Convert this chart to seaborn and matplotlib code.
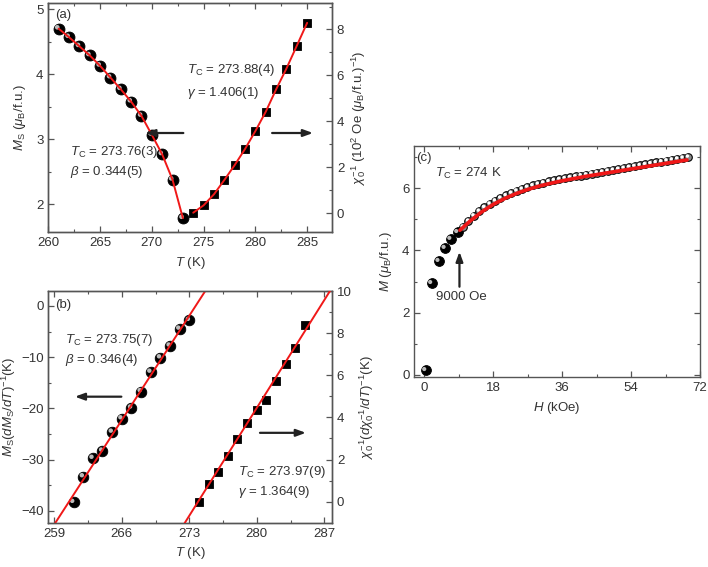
import matplotlib
matplotlib.use("Agg")
import matplotlib.pyplot as plt
import matplotlib.transforms as mtransforms
from matplotlib.ticker import MultipleLocator
import seaborn as sns

# ---------------- data ----------------
# (a) Ms(T) below Tc and inverse susceptibility above Tc
T_ms_a = [261, 262, 263, 264, 265, 266, 267, 268, 269, 270, 271, 272, 273]
Ms_a = [4.70, 4.57, 4.43, 4.29, 4.13, 3.95, 3.77, 3.58, 3.36, 3.07, 2.77, 2.38, 1.79]
T_chi_a = [274, 275, 276, 277, 278, 279, 280, 281, 282, 283, 284, 285]
chi_a = [0.03, 0.35, 0.83, 1.45, 2.10, 2.80, 3.58, 4.42, 5.39, 6.30, 7.29, 8.29]

# (b) Kouvel-Fisher plot
T_ms_b = [261, 262, 263, 264, 265, 266, 267, 268, 269, 270, 271, 272, 273]
kf_ms_b = [-38.3, -33.3, -29.7, -28.3, -24.6, -22.0, -19.9, -16.7, -12.9, -10.1, -7.8, -4.5, -2.8]
T_chi_b = [274, 275, 276, 277, 278, 279, 280, 281, 282, 283, 284, 285]
kf_chi_b = [0.0, 0.82, 1.41, 2.15, 2.99, 3.73, 4.33, 4.83, 5.71, 6.53, 7.30, 8.38]
fit_ms_T = [258.5, 275.0]
fit_ms_y = [-44.1, 3.9]
fit_chi_T = [272.0, 288.0]
fit_chi_y = [-1.4, 10.3]

# (c) M(H) isotherm at Tc
H_low = [0.35, 1.9, 3.8, 5.4, 6.9, 8.7]
M_low = [0.14, 2.94, 3.65, 4.07, 4.36, 4.58]
H_high = [10.1, 11.5, 12.9, 14.3, 15.7, 17.1, 18.5, 19.9, 21.3, 22.7, 24.1, 25.5,
          26.9, 28.3, 29.7, 31.1, 32.5, 33.9, 35.3, 36.7, 38.1, 39.5, 40.9, 42.3,
          43.7, 45.1, 46.5, 47.9, 49.3, 50.7, 52.1, 53.5, 54.9, 56.3, 57.7, 59.1,
          60.5, 61.9, 63.3, 64.7, 66.1, 67.5, 68.9]
M_high = [4.76, 4.95, 5.12, 5.27, 5.39, 5.50, 5.60, 5.69, 5.77, 5.85, 5.92, 5.98,
          6.04, 6.09, 6.14, 6.18, 6.22, 6.26, 6.29, 6.32, 6.35, 6.38, 6.41, 6.44,
          6.47, 6.50, 6.53, 6.56, 6.59, 6.62, 6.65, 6.68, 6.71, 6.74, 6.77, 6.80,
          6.83, 6.86, 6.89, 6.92, 6.95, 6.98, 7.01]
H_fit = [9.3, 12, 15, 18, 21, 24, 27, 30, 33, 36, 39, 42, 45, 48, 51, 54, 57, 60, 63, 66, 68.6]
M_fit = [4.65, 4.95, 5.24, 5.48, 5.67, 5.83, 5.96, 6.07, 6.16, 6.24, 6.31, 6.38,
         6.44, 6.50, 6.56, 6.62, 6.68, 6.74, 6.80, 6.86, 6.91]

# ---------------- style ----------------
sns.set_style("ticks")
TXT = "#333333"
RED = "#f01818"
plt.rcParams["font.family"] = ["Liberation Sans", "DejaVu Sans"]
plt.rcParams["mathtext.fontset"] = "custom"
plt.rcParams["mathtext.rm"] = "Liberation Sans"
plt.rcParams["mathtext.it"] = "Liberation Sans:italic"
plt.rcParams["font.size"] = 9.5
plt.rcParams["text.color"] = TXT
plt.rcParams["axes.labelcolor"] = TXT
plt.rcParams["xtick.color"] = "#555555"
plt.rcParams["ytick.color"] = "#555555"
plt.rcParams["xtick.labelcolor"] = TXT
plt.rcParams["ytick.labelcolor"] = TXT
plt.rcParams["axes.edgecolor"] = "#555555"

fig = plt.figure(figsize=(7.08, 5.67), dpi=100)
ax_a = fig.add_axes([0.0682, 0.590, 0.4007, 0.4042])
ax_b = fig.add_axes([0.0685, 0.0781, 0.4004, 0.4086])
ax_c = fig.add_axes([0.5852, 0.3346, 0.4035, 0.4085])


def ticks_in(ax, right=True, top=True):
    ax.tick_params(which="both", direction="in", top=top, right=right, labelsize=9.5)
    ax.tick_params(which="major", length=4, width=0.9)
    ax.tick_params(which="minor", length=2.5, width=0.8)
    for s in ax.spines.values():
        s.set_linewidth(1.0)


def balls(ax, x, y, size, marker="o", hl=True, hl_size=None, hl_col="#bbbbbb"):
    sns.scatterplot(x=x, y=y, ax=ax, s=size, marker=marker, color="black",
                    edgecolor="black", linewidth=0.6, zorder=3, legend=False)
    if hl:
        tr = mtransforms.offset_copy(ax.transData, fig=fig, x=-1.0, y=1.0, units="points")
        sns.scatterplot(x=x, y=y, ax=ax, s=hl_size or size * 0.18, marker="o",
                        color=hl_col, edgecolor="none", linewidth=0, zorder=4,
                        transform=tr, legend=False)


def arrow(ax, x0, x1, y):
    ax.annotate("", xy=(x1, y), xytext=(x0, y), xycoords="axes fraction",
                arrowprops=dict(arrowstyle="-|>,head_length=0.6,head_width=0.22",
                                color="#222222", lw=1.6, shrinkA=0, shrinkB=0))


# ---------------- panel (a) ----------------
ax_a2 = ax_a.twinx()
balls(ax_a, T_ms_a, Ms_a, 62)
sns.lineplot(x=T_ms_a, y=Ms_a, ax=ax_a, color=RED, lw=1.4, sort=False,
             estimator=None, zorder=5)
balls(ax_a2, T_chi_a, chi_a, 30, marker="s", hl=False)
sns.lineplot(x=T_chi_a, y=chi_a, ax=ax_a2, color=RED, lw=1.4, sort=False,
             estimator=None, zorder=5)
ax_a.set_xlim(260, 287.4)
ax_a.set_ylim(1.57, 5.09)
ax_a2.set_ylim(-0.83, 9.14)
ax_a.xaxis.set_major_locator(MultipleLocator(5))
ax_a.xaxis.set_minor_locator(MultipleLocator(2.5))
ax_a.yaxis.set_major_locator(MultipleLocator(1))
ax_a.yaxis.set_minor_locator(MultipleLocator(0.5))
ax_a2.yaxis.set_major_locator(MultipleLocator(2))
ax_a2.yaxis.set_minor_locator(MultipleLocator(1))
ticks_in(ax_a, right=False)
ticks_in(ax_a2, right=True, top=False)
ax_a2.tick_params(which="both", left=False)
ax_a.set_xlabel(r"$T$ (K)", labelpad=4)
ax_a.set_ylabel(r"$M_{\rm S}$ ($\mu_{\rm B}$/f.u.)", labelpad=6)
ax_a2.set_ylabel(r"$\chi_0^{-1}$ (10$^2$ Oe ($\mu_{\rm B}$/f.u.)$^{-1}$)", labelpad=4)
ax_a.text(0.024, 0.949, "(a)", transform=ax_a.transAxes, va="center")
ax_a.text(0.489, 0.709, r"$T_{\rm C}$ = 273.88(4)", transform=ax_a.transAxes, va="center")
ax_a.text(0.489, 0.609, r"$\gamma$ = 1.406(1)", transform=ax_a.transAxes, va="center")
ax_a.text(0.0765, 0.353, r"$T_{\rm C}$ = 273.76(3)", transform=ax_a.transAxes, va="center")
ax_a.text(0.0765, 0.264, r"$\beta$ = 0.344(5)", transform=ax_a.transAxes, va="center")
arrow(ax_a2, 0.476, 0.342, 0.434)
arrow(ax_a2, 0.789, 0.933, 0.434)

# ---------------- panel (b) ----------------
ax_b2 = ax_b.twinx()
balls(ax_b, T_ms_b, kf_ms_b, 58)
sns.lineplot(x=fit_ms_T, y=fit_ms_y, ax=ax_b, color=RED, lw=1.4, sort=False,
             estimator=None, zorder=5)
balls(ax_b2, T_chi_b, kf_chi_b, 30, marker="s", hl=False)
sns.lineplot(x=fit_chi_T, y=fit_chi_y, ax=ax_b2, color=RED, lw=1.4, sort=False,
             estimator=None, zorder=5)
ax_b.set_xlim(258.4, 287.8)
ax_b.set_ylim(-42.3, 2.9)
ax_b2.set_ylim(-1.0, 10.0)
ax_b.xaxis.set_major_locator(MultipleLocator(7))
ax_b.xaxis.set_minor_locator(MultipleLocator(3.5))
ax_b.set_xticks([259, 266, 273, 280, 287])
ax_b.yaxis.set_major_locator(MultipleLocator(10))
ax_b.yaxis.set_minor_locator(MultipleLocator(5))
ax_b2.yaxis.set_major_locator(MultipleLocator(2))
ax_b2.yaxis.set_minor_locator(MultipleLocator(1))
ticks_in(ax_b, right=False)
ticks_in(ax_b2, right=True, top=False)
ax_b2.tick_params(which="both", left=False)
ax_b.set_xlabel(r"$T$ (K)", labelpad=4)
ax_b.set_ylabel(r"$M_{\rm S}$($dM_{\rm S}$/$dT$)$^{-1}$(K)", labelpad=2)
ax_b2.set_ylabel(r"$\chi_0^{-1}$($d\chi_0^{-1}$/$dT$)$^{-1}$(K)", labelpad=4)
ax_b.text(0.023, 0.94, "(b)", transform=ax_b.transAxes, va="center")
ax_b.text(0.058, 0.789, r"$T_{\rm C}$ = 273.75(7)", transform=ax_b.transAxes, va="center")
ax_b.text(0.058, 0.702, r"$\beta$ = 0.346(4)", transform=ax_b.transAxes, va="center")
ax_b.text(0.668, 0.22, r"$T_{\rm C}$ = 273.97(9)", transform=ax_b.transAxes, va="center")
ax_b.text(0.668, 0.133, r"$\gamma$ = 1.364(9)", transform=ax_b.transAxes, va="center")
arrow(ax_b2, 0.257, 0.093, 0.544)
arrow(ax_b2, 0.746, 0.908, 0.388)

# ---------------- panel (c) ----------------
balls(ax_c, H_low, M_low, 50)
sns.scatterplot(x=H_high, y=M_high, ax=ax_c, s=30, marker="o", color="#8a8a8a",
                edgecolor="black", linewidth=0.8, zorder=3, legend=False)
tr = mtransforms.offset_copy(ax_c.transData, fig=fig, x=-0.6, y=0.6, units="points")
sns.scatterplot(x=H_high, y=M_high, ax=ax_c, s=6, marker="o", color="white",
                edgecolor="none", linewidth=0, zorder=4, transform=tr, legend=False)
sns.lineplot(x=H_fit, y=M_fit, ax=ax_c, color=RED, lw=2.6, sort=False,
             estimator=None, zorder=5)
ax_c.set_xlim(-2.6, 72.0)
ax_c.set_ylim(-0.08, 7.37)
ax_c.xaxis.set_major_locator(MultipleLocator(18))
ax_c.xaxis.set_minor_locator(MultipleLocator(9))
ax_c.yaxis.set_major_locator(MultipleLocator(2))
ax_c.yaxis.set_minor_locator(MultipleLocator(1))
ticks_in(ax_c)
ax_c.set_xlabel(r"$H$ (kOe)", labelpad=4)
ax_c.set_ylabel(r"$M$ ($\mu_{\rm B}$/f.u.)", labelpad=6)
ax_c.text(0.006, 0.946, "(c)", transform=ax_c.transAxes, va="center")
ax_c.text(0.072, 0.882, r"$T_{\rm C}$ = 274 K", transform=ax_c.transAxes, va="center")
ax_c.text(0.166, 0.348, "9000 Oe", transform=ax_c.transAxes, va="center", ha="center")
ax_c.annotate("", xy=(0.158, 0.542), xytext=(0.158, 0.391), xycoords="axes fraction",
              arrowprops=dict(arrowstyle="-|>,head_length=0.6,head_width=0.22",
                              color="#222222", lw=1.6, shrinkA=0, shrinkB=0))

fig.savefig("out.png", dpi=100)
